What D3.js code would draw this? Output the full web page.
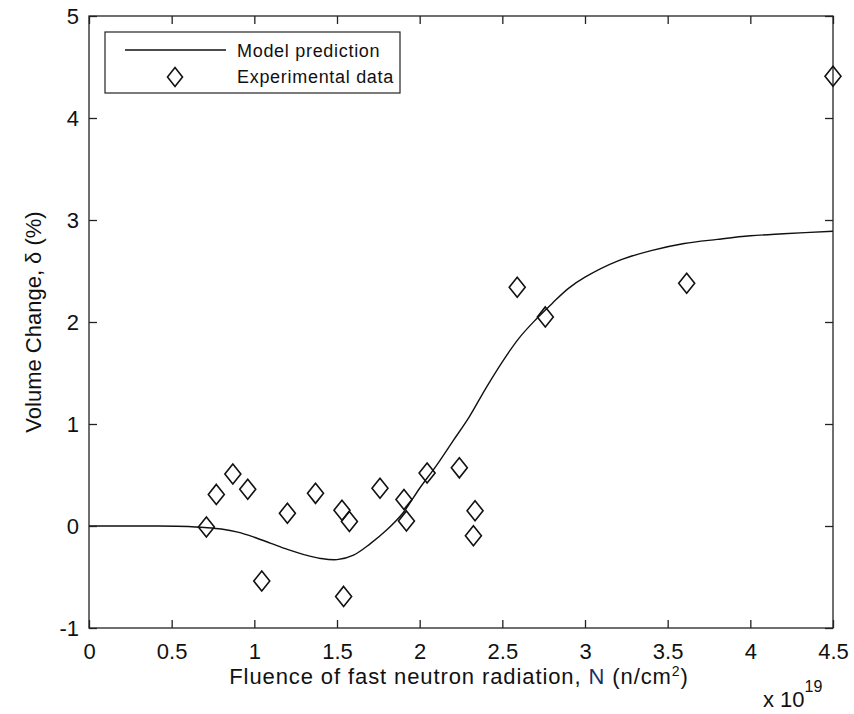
<!DOCTYPE html>
<html>
<head>
<meta charset="utf-8">
<script src="https://cdn.jsdelivr.net/npm/d3@7"></script>
<style>
  body { margin: 0; background: #fff; }
  svg { display: block; font-family: "Liberation Sans", Arial, sans-serif; }
</style>
</head>
<body>
<svg width="854" height="714"></svg>
<script>
// experimental points (fluence in 1e19 n/cm2, volume change %)
const expX = [0.71, 0.77, 0.87, 0.96, 1.045, 1.20, 1.37, 1.53, 1.54, 1.575, 1.76, 1.905, 1.92, 2.045, 2.24, 2.335, 2.325, 2.59, 2.76, 3.615, 4.5];
const expY = [-0.01, 0.31, 0.51, 0.36, -0.54, 0.125, 0.32, 0.155, -0.69, 0.045, 0.37, 0.26, 0.05, 0.52, 0.57, 0.15, -0.095, 2.34, 2.05, 2.38, 4.41];

// model prediction curve
const modelX = [0, 0.2, 0.4, 0.6, 0.7, 0.8, 0.9, 1.0, 1.1, 1.2, 1.3, 1.4, 1.5, 1.6, 1.7, 1.8, 1.9, 2.0, 2.1, 2.2, 2.3, 2.4, 2.5, 2.6, 2.7, 2.8, 2.9, 3.0, 3.2, 3.4, 3.6, 3.8, 4.0, 4.2, 4.5];
const modelY = [0, 0, 0, -0.005, -0.015, -0.03, -0.06, -0.11, -0.17, -0.23, -0.28, -0.318, -0.33, -0.285, -0.175, -0.04, 0.13, 0.37, 0.59, 0.83, 1.07, 1.35, 1.61, 1.84, 2.02, 2.18, 2.33, 2.44, 2.60, 2.70, 2.77, 2.81, 2.845, 2.865, 2.89];

const xTicks = [0, 0.5, 1, 1.5, 2, 2.5, 3, 3.5, 4, 4.5];
const yTicks = [-1, 0, 1, 2, 3, 4, 5];

const svg = d3.select('svg');
const mLeft = 89, mRight = 833, mTop = 16, mBottom = 628;

const x = d3.scaleLinear().domain([0, 4.5]).range([mLeft, mRight]);
const y = d3.scaleLinear().domain([-1, 5]).range([mBottom, mTop]);

// model line
const line = d3.line()
    .x((d, i) => x(modelX[i]))
    .y((d, i) => y(modelY[i]))
    .curve(d3.curveCatmullRom);

svg.append('path')
    .datum(modelY)
    .attr('d', line)
    .attr('fill', 'none')
    .attr('stroke', '#111')
    .attr('stroke-width', 1.4);

// axes box with inward ticks
const axisColor = '#222';
const tickLen = 8;
const fmt = d => String(d);

svg.append('g')
    .attr('transform', `translate(0,${mBottom})`)
    .call(d3.axisBottom(x).tickValues(xTicks).tickSize(-tickLen).tickPadding(15).tickFormat(fmt))
    .call(g => g.select('.domain').remove())
    .call(g => g.selectAll('text').attr('font-size', 22).attr('fill', '#111').attr('font-family', 'Liberation Sans, Arial, sans-serif'));

svg.append('g')
    .attr('transform', `translate(0,${mTop})`)
    .call(d3.axisTop(x).tickValues(xTicks).tickSize(-tickLen).tickFormat(''))
    .call(g => g.select('.domain').remove());

svg.append('g')
    .attr('transform', `translate(${mLeft},0)`)
    .call(d3.axisLeft(y).tickValues(yTicks).tickSize(-tickLen).tickPadding(10).tickFormat(fmt))
    .call(g => g.select('.domain').remove())
    .call(g => g.selectAll('text').attr('font-size', 22).attr('fill', '#111').attr('dy', '0.35em').attr('font-family', 'Liberation Sans, Arial, sans-serif'));

svg.append('g')
    .attr('transform', `translate(${mRight},0)`)
    .call(d3.axisRight(y).tickValues(yTicks).tickSize(-tickLen).tickFormat(''))
    .call(g => g.select('.domain').remove());

svg.selectAll('.tick line').attr('stroke', axisColor).attr('stroke-width', 1.3);

svg.append('rect')
    .attr('x', mLeft).attr('y', mTop)
    .attr('width', mRight - mLeft).attr('height', mBottom - mTop)
    .attr('fill', 'none')
    .attr('stroke', axisColor)
    .attr('stroke-width', 1.3);

// diamonds
const diamond = (cx, cy, w, h) => `M${cx},${cy - h}L${cx + w},${cy}L${cx},${cy + h}L${cx - w},${cy}Z`;

svg.append('g')
    .selectAll('path')
    .data(expX)
    .enter().append('path')
    .attr('d', (d, i) => diamond(x(d), y(expY[i]), 8, 10))
    .attr('fill', 'none')
    .attr('stroke', '#111')
    .attr('stroke-width', 1.6);

// legend
const legend = svg.append('g');
legend.append('rect')
    .attr('x', 105).attr('y', 32).attr('width', 295).attr('height', 61)
    .attr('fill', '#fff').attr('stroke', axisColor).attr('stroke-width', 1.2);
legend.append('line')
    .attr('x1', 125).attr('x2', 226).attr('y1', 50).attr('y2', 50)
    .attr('stroke', '#111').attr('stroke-width', 1.4);
legend.append('path')
    .attr('d', diamond(175, 77, 7.5, 9.5))
    .attr('fill', 'none').attr('stroke', '#111').attr('stroke-width', 1.6);
legend.append('text').attr('x', 237).attr('y', 57).attr('font-size', 18).attr('letter-spacing', 0.7).attr('fill', '#111').text('Model prediction');
legend.append('text').attr('x', 237).attr('y', 83).attr('font-size', 18).attr('letter-spacing', 0.7).attr('fill', '#111').text('Experimental data');

// axis titles
const xl = svg.append('text')
    .attr('x', 459).attr('y', 684)
    .attr('text-anchor', 'middle')
    .attr('font-size', 22)
    .attr('letter-spacing', 0.9)
    .attr('fill', '#111');
xl.append('tspan').text('Fluence of fast neutron radiation, ');
xl.append('tspan').attr('fill', '#1e2f66').text('N');
xl.append('tspan').text(' (n/cm');
xl.append('tspan').attr('font-size', 14).attr('dy', -8).text('2');
xl.append('tspan').attr('dy', 8).text(')');

const ex = svg.append('text')
    .attr('x', 763).attr('y', 707)
    .attr('font-size', 22)
    .attr('fill', '#111');
ex.append('tspan').text('x 10');
ex.append('tspan').attr('font-size', 16).attr('dy', -15).text('19');

svg.append('text')
    .attr('transform', 'translate(41,322) rotate(-90)')
    .attr('text-anchor', 'middle')
    .attr('font-size', 22)
    .attr('fill', '#111')
    .text('Volume Change, δ (%)');
</script>
</body>
</html>
